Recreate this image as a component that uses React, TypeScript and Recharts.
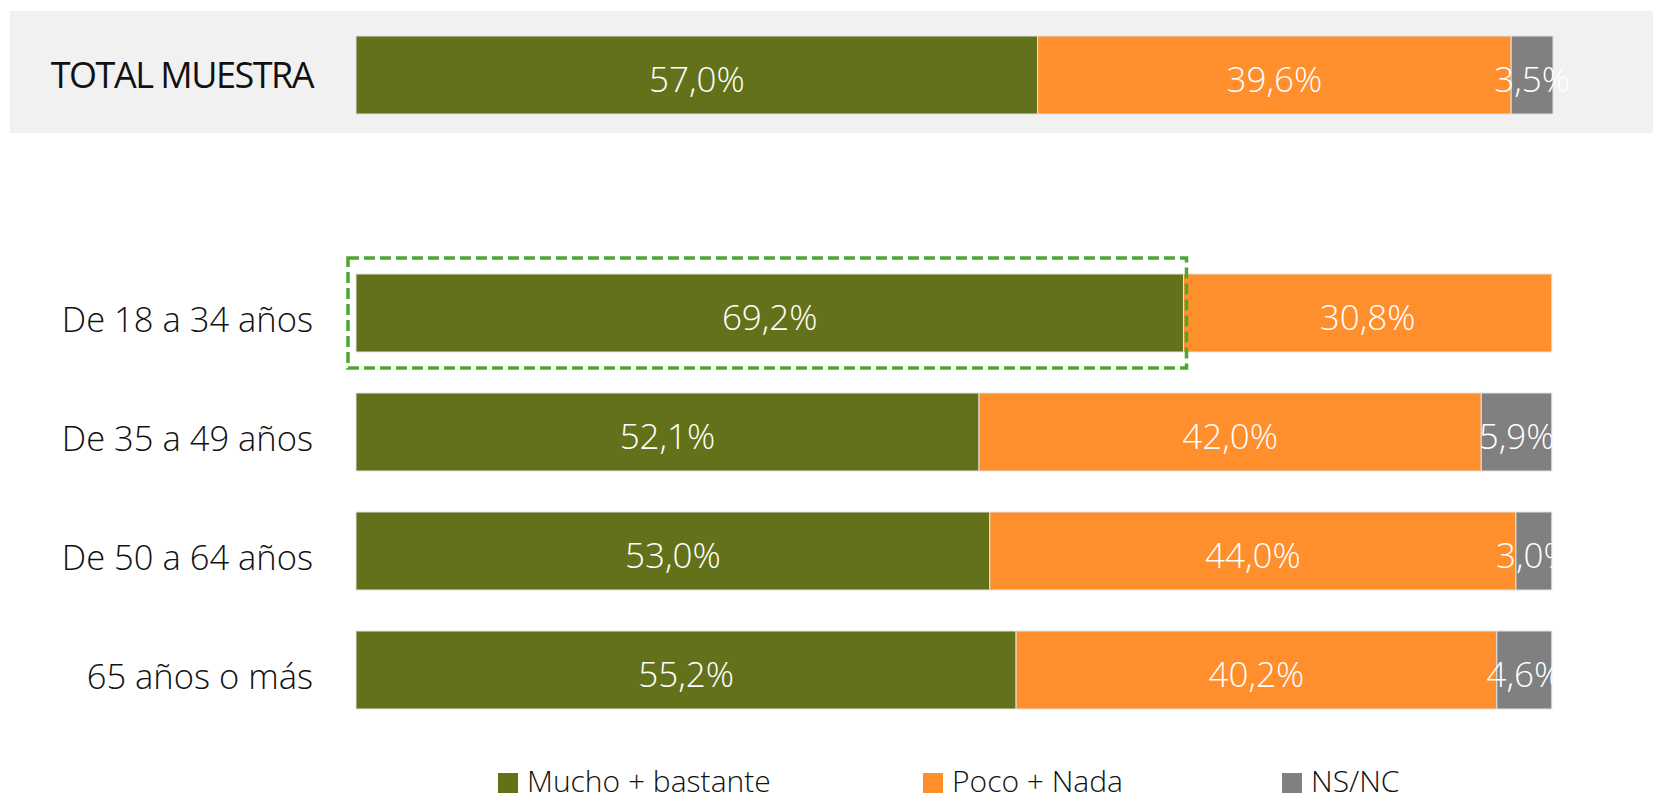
import React from "react";
import { BarChart, Bar, XAxis, YAxis, LabelList } from "recharts";

// ---- data ----
const categories = [
  "TOTAL MUESTRA",
  "",
  "De 18 a 34 años",
  "De 35 a 49 años",
  "De 50 a 64 años",
  "65 años o más",
];
const muchoBastante = [57.0, null, 69.2, 52.1, 53.0, 55.2];
const pocoNada = [39.6, null, 30.8, 42.0, 44.0, 40.2];
const nsnc = [3.5, null, null, 5.9, 3.0, 4.6];

const seriesKeys = ["mucho", "poco", "nsnc"];
const seriesNames = ["Mucho + bastante", "Poco + Nada", "NS/NC"];
const seriesColors = ["#63721a", "#ff8e2d", "#808080"];
const highlightCategory = "De 18 a 34 años";
const totalCategory = "TOTAL MUESTRA";

const data = categories.map((cat, i) => ({
  cat,
  mucho: muchoBastante[i],
  poco: pocoNada[i],
  nsnc: nsnc[i],
}));

// ---- layout / style ----
const W = 1653;
const H = 796;
const FONT = "'Open Sans', 'Noto Sans', sans-serif";
const BAR_STROKE = "#e2e2e2";
const legendX = [498, 923, 1282];

const fmt = (v: number) => v.toFixed(1).replace(".", ",") + "%";

const CategoryTick = (props: any) => {
  const { y, payload } = props;
  const label = payload?.value;
  if (!label) return null;
  const isTotal = label === totalCategory;
  return (
    <text
      x={313}
      y={y + (isTotal ? 13 : 19.5)}
      textAnchor="end"
      fontFamily={FONT}
      fontSize={isTotal ? 36 : 34.5}
      fontWeight={isTotal ? 400 : 300}
      letterSpacing={isTotal ? -1.5 : 0}
      fill="#111"
    >
      {label}
    </text>
  );
};

const makeLabel = (clipLast: boolean) => (props: any) => {
  const vb = props.viewBox || props;
  const { x, y, width, height } = vb;
  const { value, index } = props;
  if (value == null || value === 0 || x == null) return null;
  const cx = x + width / 2;
  const by = y + height / 2 + 17;
  const cat = categories[index];
  const doClip = clipLast && cat !== totalCategory;
  const id = `lbl-clip-${index}`;
  return (
    <g>
      {doClip && (
        <defs>
          <clipPath id={id}>
            <rect x={x - 200} y={y} width={width + 200} height={height} />
          </clipPath>
        </defs>
      )}
      <text
        x={cx}
        y={by}
        textAnchor="middle"
        fontFamily={FONT}
        fontSize={35}
        fontWeight={300}
        fill="#ffffff"
        clipPath={doClip ? `url(#${id})` : undefined}
      >
        {fmt(value)}
      </text>
    </g>
  );
};

const PocoShape = (props: any) => {
  const { x, y, width, height, fill, payload } = props;
  if (width == null || height == null) return null;
  const elems: any[] = [
    <rect
      key="r"
      x={x}
      y={y}
      width={width}
      height={height}
      fill={fill}
      stroke={BAR_STROKE}
      strokeWidth={1}
    />,
  ];
  if (payload && payload.cat === highlightCategory && payload.poco) {
    const muchoW = (width * payload.mucho) / payload.poco;
    elems.push(
      <rect
        key="h"
        x={x - muchoW - 8}
        y={y - 16}
        width={muchoW + 11}
        height={height + 32}
        fill="none"
        stroke="#4ea72e"
        strokeWidth={3.5}
        strokeDasharray="11 5"
      />
    );
  }
  return <g>{elems}</g>;
};

export default function App() {
  return (
    <div style={{ position: "absolute", left: 0, top: 0, width: W, height: H, background: "#fff" }}>
      <div
        style={{
          position: "absolute",
          left: 10,
          top: 11,
          width: W - 10,
          height: 122,
          background: "#f1f1f1",
        }}
      />
      <div style={{ position: "absolute", left: 0, top: 0 }}>
        <BarChart
          width={W}
          height={H}
          data={data}
          layout="vertical"
          margin={{ top: 15, right: 100, bottom: 67, left: 0 }}
          barSize={78}
        >
          <XAxis type="number" domain={[0, 100]} hide />
          <YAxis
            type="category"
            dataKey="cat"
            width={356}
            axisLine={false}
            tickLine={false}
            tick={<CategoryTick />}
            interval={0}
          />
          <Bar
            dataKey={seriesKeys[0]}
            name={seriesNames[0]}
            stackId="a"
            fill={seriesColors[0]}
            stroke={BAR_STROKE}
            strokeWidth={1}
            isAnimationActive={false}
          >
            <LabelList dataKey={seriesKeys[0]} content={makeLabel(false)} />
          </Bar>
          <Bar
            dataKey={seriesKeys[1]}
            name={seriesNames[1]}
            stackId="a"
            fill={seriesColors[1]}
            shape={<PocoShape />}
            isAnimationActive={false}
          >
            <LabelList dataKey={seriesKeys[1]} content={makeLabel(false)} />
          </Bar>
          <Bar
            dataKey={seriesKeys[2]}
            name={seriesNames[2]}
            stackId="a"
            fill={seriesColors[2]}
            stroke={BAR_STROKE}
            strokeWidth={1}
            isAnimationActive={false}
          >
            <LabelList dataKey={seriesKeys[2]} content={makeLabel(true)} />
          </Bar>
        </BarChart>
      </div>
      <svg
        width={W}
        height={H}
        style={{ position: "absolute", left: 0, top: 0, pointerEvents: "none" }}
      >
        {seriesNames.map((name, i) => (
          <g key={name}>
            <rect x={legendX[i]} y={773} width={20} height={20} fill={seriesColors[i]} />
            <text
              x={legendX[i] + 29}
              y={792}
              fontFamily={FONT}
              fontSize={30}
              fontWeight={300}
              fill="#111"
            >
              {name}
            </text>
          </g>
        ))}
      </svg>
    </div>
  );
}
